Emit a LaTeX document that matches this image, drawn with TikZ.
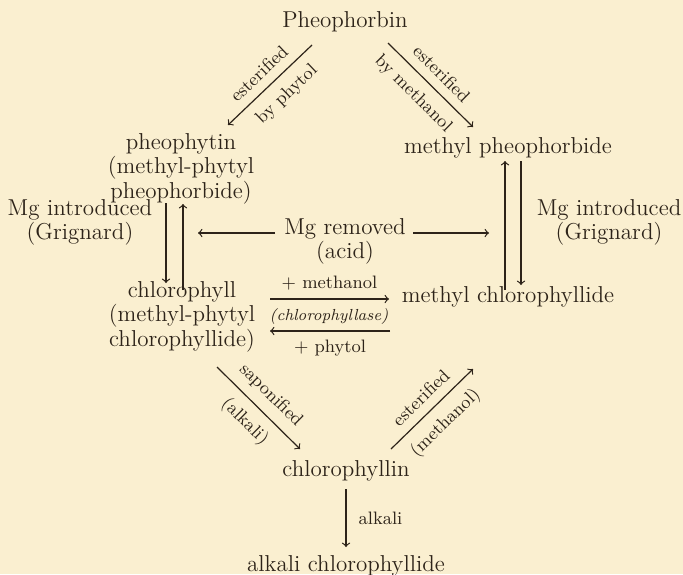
\documentclass[tikz,border=0pt]{standalone}
\usepackage{tikz}
\definecolor{paper}{RGB}{250,239,208}
\definecolor{ink}{RGB}{45,35,25}
\tikzset{
  cmpd/.style={align=center,inner sep=0pt,font=\fontsize{11.5}{10.5}\selectfont},
  lbl/.style={inner sep=2pt,font=\fontsize{9}{10}\selectfont},
  conv/.style={->,line width=0.6pt},
}
\begin{document}
\begin{tikzpicture}[x=0.5pt,y=-0.5pt,color=ink]
\fill[paper] (0,0) rectangle (683,574);
\useasboundingbox (0,0) rectangle (683,574);
\node[cmpd] (pheo) at (345,22) {Pheophorbin};
\node[cmpd] (pphy) at (181,169) {pheophytin\\(methyl-phytyl\\pheophorbide)};
\node[cmpd] (mpb) at (508,148) {methyl pheophorbide};
\node[cmpd] (mgl) at (80,222) {Mg introduced\\(Grignard)};
\node[cmpd] (mgr) at (609,222) {Mg introduced\\(Grignard)};
\node[cmpd] (mgrem) at (345,241) {Mg removed\\(acid)};
\node[cmpd] (chl) at (182,317) {chlorophyll\\(methyl-phytyl\\chlorophyllide)};
\node[cmpd] (mcl) at (508,297) {methyl chlorophyllide};
\node[cmpd] (chlin) at (346,471) {chlorophyllin};
\node[cmpd] (alk) at (346,566) {alkali chlorophyllide};
\node[lbl,font=\fontsize{8}{9}\itshape] (enz) at (329,316) {(chlorophyllase)};
\coordinate (lx) at (198,233);
\coordinate (rx) at (489,233);
\draw[conv] ([shift={(-33,23)}]pheo.center) -- node[lbl,sloped,above=2.5pt]{esterified} node[lbl,sloped,below=3pt,pos=0.45]{by phytol} ([shift={(47,-44)}]pphy.center);
\draw[conv] ([shift={(43,21)}]pheo.center) -- node[lbl,sloped,above=2.5pt]{esterified} node[lbl,sloped,below=3pt,pos=0.45]{by methanol} ([shift={(-35,-21)}]mpb.center);
\draw[conv] ([shift={(-15,34)}]pphy.center) -- ([shift={(-16,-34)}]chl.center);
\draw[conv] ([shift={(1,-27)}]chl.center) -- ([shift={(2,35)}]pphy.center);
\draw[conv] ([shift={(-3,-7)}]mcl.center) -- ([shift={(-3,13)}]mpb.center);
\draw[conv] ([shift={(13,13)}]mpb.center) -- ([shift={(13,-12)}]mcl.center);
\draw[conv] ([shift={(-70,-8)}]mgrem.center) -- (lx);
\draw[conv] ([shift={(68,-8)}]mgrem.center) -- (rx);
\draw[conv] ([shift={(88,-18)}]chl.center) -- node[lbl,above=2pt]{+ methanol} ([shift={(-119,2)}]mcl.center);
\draw[conv] ([shift={(-118,34)}]mcl.center) -- node[lbl,below=2pt]{+ phytol} ([shift={(88,14)}]chl.center);
\draw[conv] ([shift={(35,50)}]chl.center) -- node[lbl,sloped,above=2.5pt]{saponified} node[lbl,sloped,below=3pt]{(alkali)} ([shift={(-46,-22)}]chlin.center);
\draw[conv] ([shift={(45,-22)}]chlin.center) -- node[lbl,sloped,above=2.5pt]{esterified} node[lbl,sloped,below=3pt]{(methanol)} ([shift={(-35,72)}]mcl.center);
\draw[conv] ([shift={(0,18)}]chlin.center) -- node[lbl,right=4pt]{alkali} ([shift={(0,-19)}]alk.center);
\end{tikzpicture}
\end{document}
